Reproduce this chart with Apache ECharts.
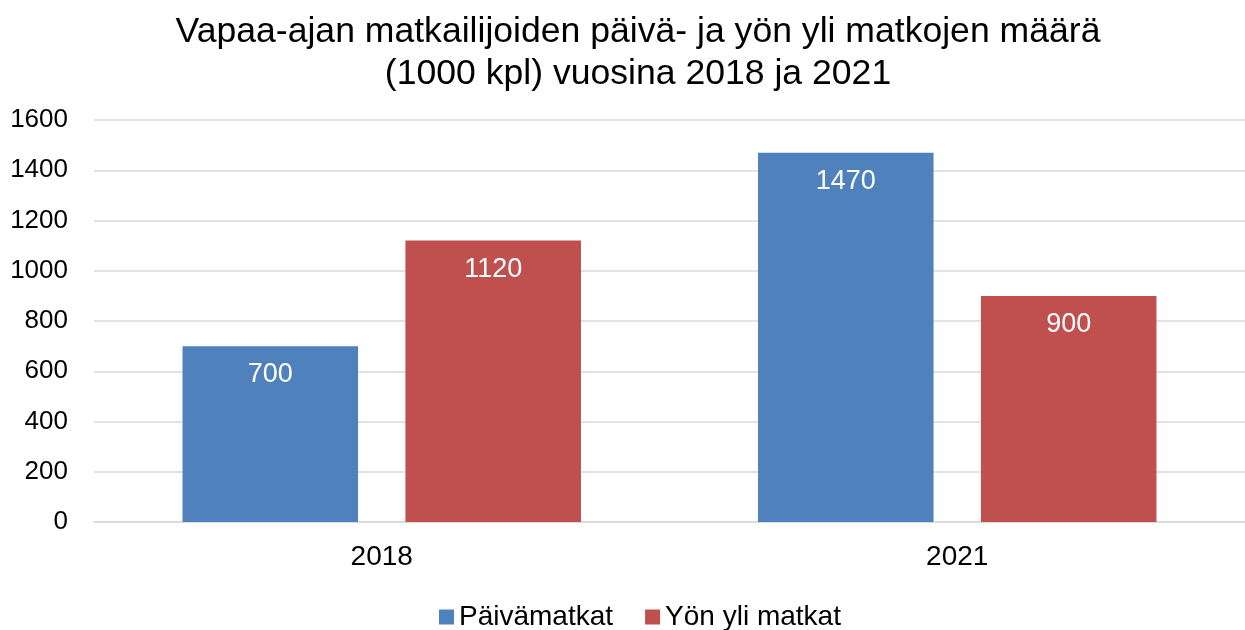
<!DOCTYPE html>
<html lang="fi">
<head>
    <meta charset="UTF-8">
    <title>Matkat</title>
    <script type="text/javascript" src="https://cdn.jsdelivr.net/npm/echarts@6/dist/echarts.min.js"></script>
    <style>
        html, body { margin: 0; padding: 0; background: #fff; }
        #chart { width: 1245px; height: 630px; }
    </style>
</head>
<body>
<div id="chart"></div>
<script type="text/javascript">
    var years = ['2018', '2021'];
    var paivamatkat = [700, 1470];
    var yonYli = [1120, 900];
    var yTicks = [0, 200, 400, 600, 800, 1000, 1200, 1400, 1600];

    var font = 'Liberation Sans, Arial, sans-serif';
    var mychart = echarts.init(document.getElementById('chart'));
    var barLabel = {
        show: true,
        position: 'insideTop',
        distance: 15,
        color: '#fff',
        fontSize: 27,
        fontFamily: font
    };
    var option = {
        animation: false,
        title: {
            text: 'Vapaa-ajan matkailijoiden päivä- ja yön yli matkojen määrä\n(1000 kpl) vuosina 2018 ja 2021',
            left: 633,
            textAlign: 'center',
            top: 6,
            textStyle: {
                fontSize: 35.6,
                fontWeight: 'normal',
                color: '#000',
                fontFamily: font,
                lineHeight: 42
            }
        },
        legend: {
            top: 598,
            left: 434,
            itemWidth: 15,
            itemHeight: 15,
            itemGap: 32,
            icon: 'rect',
            textStyle: { fontSize: 28, color: '#000', fontFamily: font },
            data: ['Päivämatkat', 'Yön yli matkat']
        },
        grid: { left: 94, right: -2, top: 120, bottom: 108 },
        xAxis: {
            type: 'category',
            data: years,
            axisTick: { show: false },
            axisLine: { lineStyle: { color: '#d9d9d9', width: 1.5 } },
            axisLabel: { fontSize: 28, color: '#000', margin: 21, fontFamily: font }
        },
        yAxis: {
            type: 'value',
            min: yTicks[0],
            max: yTicks[yTicks.length - 1],
            interval: 200,
            axisLine: { show: false },
            axisTick: { show: false },
            splitLine: { lineStyle: { color: '#d9d9d9', width: 1.5 } },
            axisLabel: {
                fontSize: 26, color: '#000', margin: 26, fontFamily: font,
                formatter: function (v) { return String(v); }
            }
        },
        series: [
            {
                name: 'Päivämatkat',
                type: 'bar',
                data: paivamatkat,
                barWidth: '30.5%',
                barGap: '27%',
                itemStyle: { color: '#4F81BD' },
                label: barLabel
            },
            {
                name: 'Yön yli matkat',
                type: 'bar',
                data: yonYli,
                barWidth: '30.5%',
                itemStyle: { color: '#C0504D' },
                label: barLabel
            }
        ]
    };
    mychart.setOption(option);
</script>
</body>
</html>
